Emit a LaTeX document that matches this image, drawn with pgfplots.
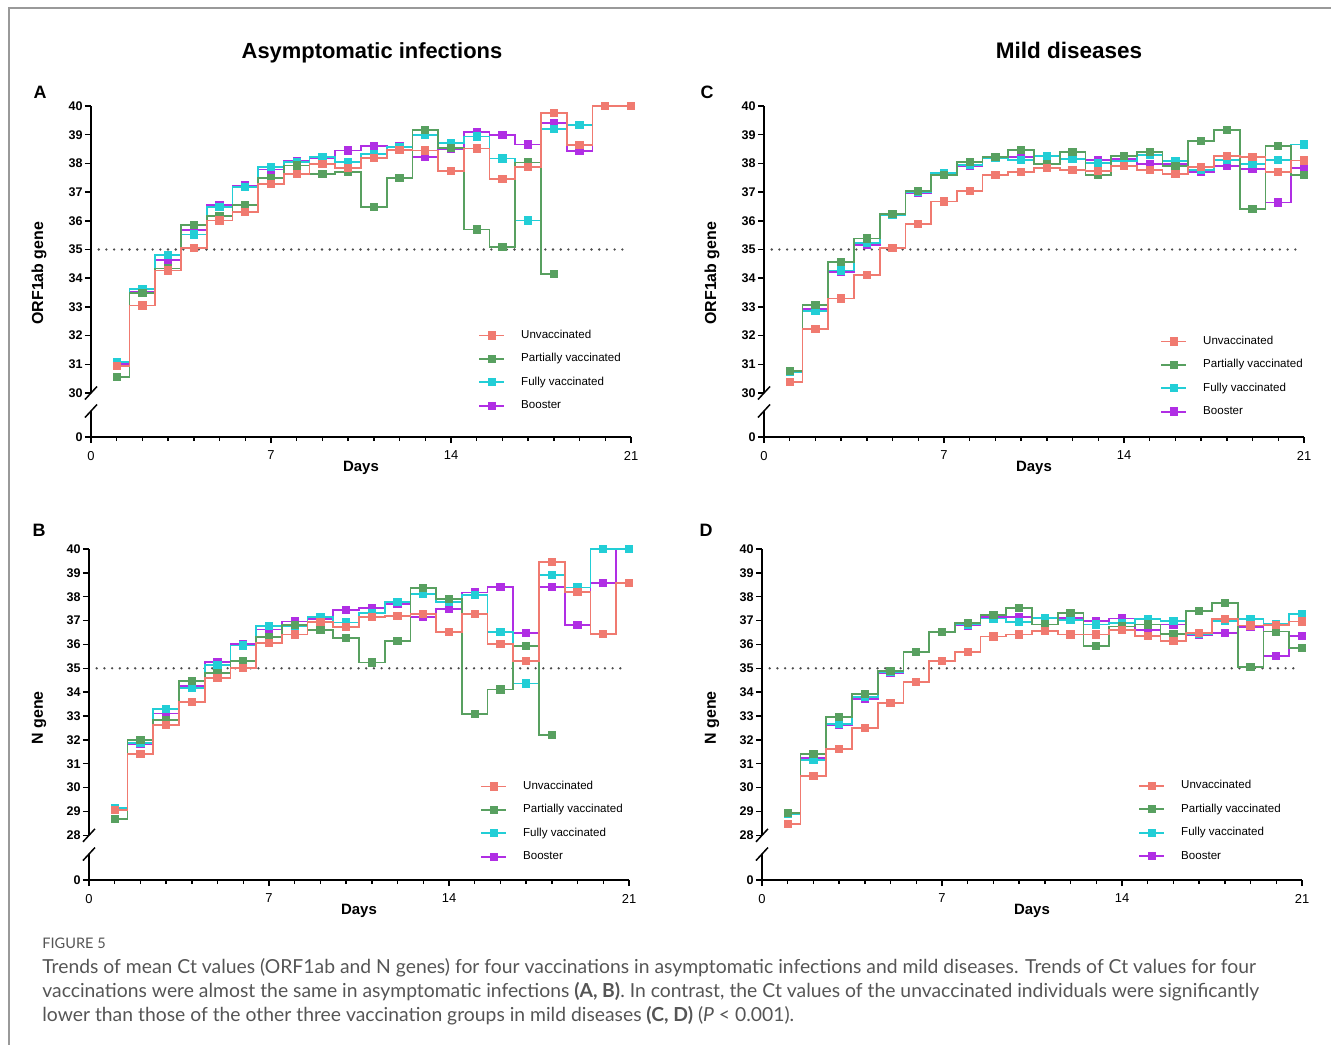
\documentclass[border=0pt]{standalone}
\usepackage{pgfplots}
\pgfplotsset{compat=1.18}
\usepackage{pgfplotstable}
\usepackage{fontspec}
\setmainfont{Liberation Sans}
\newfontfamily\capfont{Lato}

\definecolor{cU}{RGB}{240,122,112}
\definecolor{cP}{RGB}{88,160,96}
\definecolor{cF}{RGB}{34,206,214}
\definecolor{cB}{RGB}{176,46,228}
\definecolor{capgray}{RGB}{85,85,85}

\pgfplotstableread{
day U P F B
1 30.95 30.57 31.07 31.00
2 33.05 33.48 33.63 33.51
3 34.27 34.34 34.80 34.63
4 35.06 35.85 35.52 35.69
5 36.01 36.16 36.48 36.56
6 36.30 36.56 37.17 37.23
7 37.27 37.49 37.87 37.79
8 37.63 37.93 38.05 38.09
9 37.97 37.64 38.21 38.19
10 37.83 37.69 38.04 38.45
11 38.19 36.47 38.34 38.60
12 38.47 37.50 38.57 38.59
13 38.45 39.16 39.00 38.21
14 37.73 38.55 38.72 38.50
15 38.52 35.70 38.94 39.10
16 37.47 35.08 38.17 38.98
17 37.87 38.03 36.01 38.66
18 39.76 34.14 39.21 39.42
19 38.64 nan 39.33 38.42
20 40.00 nan 40.00 40.00
21 40.00 nan 40.00 40.00
}\tabA

\pgfplotstableread{
day U P F B
1 30.38 30.78 30.74 30.74
2 32.23 33.08 32.85 32.93
3 33.29 34.56 34.27 34.21
4 34.10 35.38 35.24 35.17
5 35.05 36.24 36.21 36.20
6 35.88 37.03 37.00 36.98
7 36.67 37.60 37.67 37.62
8 37.03 38.05 37.95 37.90
9 37.59 38.22 38.20 38.20
10 37.71 38.47 38.11 38.23
11 37.85 37.97 38.26 38.24
12 37.76 38.41 38.15 38.16
13 37.73 37.60 38.02 38.12
14 37.90 38.26 38.08 38.16
15 37.77 38.41 38.28 37.99
16 37.64 37.92 38.08 37.97
17 37.87 38.77 37.76 37.69
18 38.26 39.17 38.13 37.90
19 38.22 36.40 37.97 37.80
20 37.70 38.60 38.12 36.64
21 38.10 37.59 38.66 37.83
}\tabC

\pgfplotstableread{
day U P F B
1 29.05 28.70 29.16 29.07
2 31.41 31.98 31.87 31.83
3 32.64 32.82 33.31 33.11
4 33.59 34.48 34.18 34.27
5 34.61 34.80 35.13 35.27
6 35.00 35.29 35.96 36.02
7 36.06 36.30 36.76 36.63
8 36.42 36.80 36.76 36.96
9 36.94 36.61 37.15 37.05
10 36.73 36.28 36.92 37.46
11 37.14 35.24 37.32 37.53
12 37.19 36.15 37.77 37.68
13 37.29 38.37 38.11 37.14
14 36.52 37.92 37.77 37.50
15 37.29 33.10 38.07 38.18
16 36.03 34.11 36.51 38.41
17 35.32 35.95 34.36 36.49
18 39.47 32.19 38.92 38.41
19 38.21 nan 38.39 36.82
20 36.45 nan 40.00 38.59
21 38.59 nan 40.00 40.00
}\tabB

\pgfplotstableread{
day U P F B
1 28.48 28.95 28.88 28.88
2 30.49 31.42 31.16 31.23
3 31.63 32.97 32.68 32.63
4 32.51 33.91 33.81 33.72
5 33.53 34.90 34.86 34.82
6 34.44 35.70 35.70 35.70
7 35.31 36.51 36.51 36.51
8 35.70 36.90 36.84 36.79
9 36.33 37.23 37.09 37.16
10 36.42 37.53 36.93 37.14
11 36.55 36.84 37.11 37.09
12 36.42 37.32 37.03 37.12
13 36.42 35.94 36.84 36.98
14 36.61 36.75 36.89 37.09
15 36.37 36.84 37.07 36.61
16 36.16 36.44 36.97 36.84
17 36.49 37.39 36.45 36.40
18 37.05 37.75 36.97 36.49
19 36.79 35.04 37.08 36.72
20 36.82 36.54 36.87 35.50
21 36.96 35.84 37.26 36.34
}\tabD

\pgfplotsset{
  panel/.style={
    scale only axis, width=270bp, height=165.5bp,
    xmin=0, xmax=21, ymax=40,
    axis x line=bottom, axis y line=left,
    axis line style={-, line width=0.75bp},
    y axis line style={draw=none},
    tick align=outside,
    xtick={0,7,14,21}, minor xtick={1,2,3,4,5,6,8,9,10,11,12,13,15,16,17,18,19,20},
    major tick length=3bp, minor tick length=2bp,
    every tick/.style={line width=0.75bp, black},
    /pgf/number format/assume math mode=true,
    xticklabel style={font=\fontsize{6.5}{7}\selectfont, anchor=north, inner sep=0pt, yshift=-3.8bp},
    yticklabel style={font=\fontsize{6.3}{7}\selectfont\bfseries, anchor=east, inner sep=0pt, xshift=-1bp},
    xlabel={Days},
    xlabel style={font=\fontsize{7.5}{8}\selectfont\bfseries, at={(axis description cs:0.5,0)}, anchor=center, yshift=-15.5bp},
    clip=false,
    legend cell align=left,
    reverse legend,
    legend style={draw=none, fill=none, font=\fontsize{5.8}{6}\selectfont, anchor=west, inner sep=0pt, column sep=8bp, row sep=6.3bp, nodes={inner sep=0pt, text height=4.2bp, text depth=1.2bp}},
    legend image code/.code={\draw[mark repeat=2,mark phase=2] plot coordinates {(0bp,0bp) (6.25bp,0bp) (12.5bp,0bp)};},
  },
  ser/.style={const plot mark mid, color=#1, mark=square*, mark size=1.6bp, line width=0.9bp, mark options={solid}},
  dots/.style={forget plot, color=black!70, line width=1.3bp, dash pattern=on 0pt off 3.85bp, line cap=round},
}

\newcommand{\series}[1]{%
  \addplot[ser=cB] table[x=day,y=B] {#1}; \addlegendentry{Booster}
  \addplot[ser=cF] table[x=day,y=F] {#1}; \addlegendentry{Fully vaccinated}
  \addplot[ser=cP] table[x=day,y=P] {#1}; \addlegendentry{Partially vaccinated}
  \addplot[ser=cU] table[x=day,y=U] {#1}; \addlegendentry{Unvaccinated}
}

\begin{document}
\begin{tikzpicture}
\path[use as bounding box] (0,0) rectangle (665.5bp,-522.5bp);
\draw[black!40, line width=0.7bp] (4.5bp,-522.5bp) -- (4.5bp,-4bp) -- (665.5bp,-4bp);

% Panel A
\begin{axis}[panel, at={(45.5bp,-218.5bp)}, anchor=south west,
  ymin=28.467, ytick={28.467,30,31,32,33,34,35,36,37,38,39,40},
  yticklabels={0,30,31,32,33,34,35,36,37,38,39,40},
  ylabel={ORF1ab gene},
  ylabel style={font=\fontsize{8}{9}\selectfont\bfseries, at={(axis description cs:-0.0963,0.495)}, anchor=center},
  legend style={at={(axis description cs:0.7167,0.2009)}}]
\addplot[dots] coordinates {(0.3,35) (20.8,35)};
\series{\tabA}
\draw[line width=0.75bp] (axis cs:0,40) -- (axis cs:0,30);
\draw[line width=0.75bp] (axis cs:0,29.373) -- (axis cs:0,28.467);
\draw[line width=0.75bp] ([xshift=-3bp,yshift=-3.25bp]axis cs:0,30) -- ([xshift=3bp,yshift=3.25bp]axis cs:0,30);
\draw[line width=0.75bp] ([xshift=-3bp,yshift=-3.25bp]axis cs:0,29.373) -- ([xshift=3bp,yshift=3.25bp]axis cs:0,29.373);
\end{axis}

% Panel C
\begin{axis}[panel, at={(382bp,-218.5bp)}, anchor=south west,
  ymin=28.467, ytick={28.467,30,31,32,33,34,35,36,37,38,39,40},
  yticklabels={0,30,31,32,33,34,35,36,37,38,39,40},
  ylabel={ORF1ab gene},
  ylabel style={font=\fontsize{8}{9}\selectfont\bfseries, at={(axis description cs:-0.0963,0.495)}, anchor=center},
  legend style={at={(axis description cs:0.7333,0.1828)}}]
\addplot[dots] coordinates {(0.3,35) (20.8,35)};
\series{\tabC}
\draw[line width=0.75bp] (axis cs:0,40) -- (axis cs:0,30);
\draw[line width=0.75bp] (axis cs:0,29.373) -- (axis cs:0,28.467);
\draw[line width=0.75bp] ([xshift=-3bp,yshift=-3.25bp]axis cs:0,30) -- ([xshift=3bp,yshift=3.25bp]axis cs:0,30);
\draw[line width=0.75bp] ([xshift=-3bp,yshift=-3.25bp]axis cs:0,29.373) -- ([xshift=3bp,yshift=3.25bp]axis cs:0,29.373);
\end{axis}

% Panel B
\begin{axis}[panel, at={(44.5bp,-440bp)}, anchor=south west,
  ymin=26.127, ytick={26.127,28,29,30,31,32,33,34,35,36,37,38,39,40},
  yticklabels={0,28,29,30,31,32,33,34,35,36,37,38,39,40},
  ylabel={N gene},
  ylabel style={font=\fontsize{8}{9}\selectfont\bfseries, at={(axis description cs:-0.0926,0.49)}, anchor=center},
  legend style={at={(axis description cs:0.724,0.1767)}}]
\addplot[dots] coordinates {(0.3,35) (20.8,35)};
\series{\tabB}
\draw[line width=0.75bp] (axis cs:0,40) -- (axis cs:0,28);
\draw[line width=0.75bp] (axis cs:0,27.216) -- (axis cs:0,26.127);
\draw[line width=0.75bp] ([xshift=-3bp,yshift=-3.25bp]axis cs:0,28) -- ([xshift=3bp,yshift=3.25bp]axis cs:0,28);
\draw[line width=0.75bp] ([xshift=-3bp,yshift=-3.25bp]axis cs:0,27.216) -- ([xshift=3bp,yshift=3.25bp]axis cs:0,27.216);
\end{axis}

% Panel D
\begin{axis}[panel, at={(381bp,-440bp)}, anchor=south west,
  ymin=26.127, ytick={26.127,28,29,30,31,32,33,34,35,36,37,38,39,40},
  yticklabels={0,28,29,30,31,32,33,34,35,36,37,38,39,40},
  ylabel={N gene},
  ylabel style={font=\fontsize{8}{9}\selectfont\bfseries, at={(axis description cs:-0.0926,0.49)}, anchor=center},
  legend style={at={(axis description cs:0.6963,0.178)}}]
\addplot[dots] coordinates {(0.3,35) (20.8,35)};
\series{\tabD}
\draw[line width=0.75bp] (axis cs:0,40) -- (axis cs:0,28);
\draw[line width=0.75bp] (axis cs:0,27.216) -- (axis cs:0,26.127);
\draw[line width=0.75bp] ([xshift=-3bp,yshift=-3.25bp]axis cs:0,28) -- ([xshift=3bp,yshift=3.25bp]axis cs:0,28);
\draw[line width=0.75bp] ([xshift=-3bp,yshift=-3.25bp]axis cs:0,27.216) -- ([xshift=3bp,yshift=3.25bp]axis cs:0,27.216);
\end{axis}

% titles and letters
\node[anchor=base, inner sep=0pt, font=\fontsize{11}{13}\selectfont\bfseries] at (186bp,-29.3bp) {Asymptomatic infections};
\node[anchor=base, inner sep=0pt, font=\fontsize{11.3}{13}\selectfont\bfseries] at (534.5bp,-29.3bp) {Mild diseases};
\node[font=\fontsize{9}{10}\selectfont\bfseries] at (20bp,-46bp) {A};
\node[font=\fontsize{9}{10}\selectfont\bfseries] at (353.5bp,-46bp) {C};
\node[font=\fontsize{9}{10}\selectfont\bfseries] at (19.5bp,-265bp) {B};
\node[font=\fontsize{9}{10}\selectfont\bfseries] at (353bp,-265bp) {D};

% caption
\node[anchor=base west, inner sep=0pt, text=capgray, font=\capfont\fontsize{7.3}{8}\selectfont] at (21bp,-474bp) {FIGURE 5};
\node[anchor=base west, inner sep=0pt, text=capgray, font=\capfont\fontsize{9.7}{10}\selectfont] at (21bp,-486.5bp) {Trends of mean Ct values (ORF1ab and N genes) for four vaccinations in asymptomatic infections and mild diseases. Trends of Ct values for four};
\node[anchor=base west, inner sep=0pt, text=capgray, font=\capfont\fontsize{9.7}{10}\selectfont] at (21bp,-498.5bp) {vaccinations were almost the same in asymptomatic infections \textbf{(A, B)}. In contrast, the Ct values of the unvaccinated individuals were significantly};
\node[anchor=base west, inner sep=0pt, text=capgray, font=\capfont\fontsize{9.7}{10}\selectfont] at (21bp,-510.5bp) {lower than those of the other three vaccination groups in mild diseases \textbf{(C, D)} (\textit{P} < 0.001).};
\end{tikzpicture}
\end{document}
